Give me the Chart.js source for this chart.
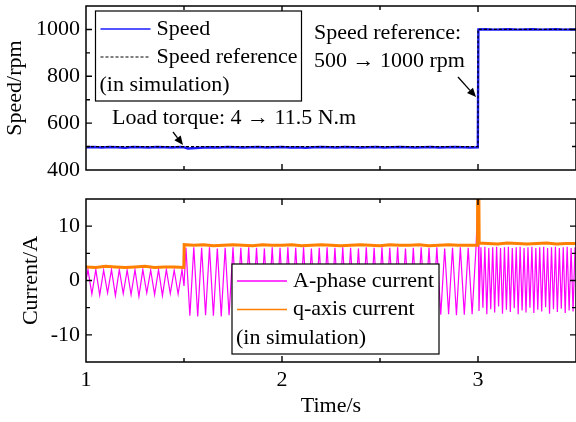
<!DOCTYPE html>
<html><head><meta charset="utf-8">
<script src="https://cdn.jsdelivr.net/npm/chart.js@4"></script>
<style>
html,body{margin:0;padding:0;background:#fff;}
#wrap{position:relative;width:576px;height:422px;overflow:hidden;background:#fff;}
#c1{position:absolute;left:0;top:0;}
#c2{position:absolute;left:0;top:190px;}
</style></head><body>
<div id="wrap"><canvas id="c1" width="576" height="176"></canvas><canvas id="c2" width="576" height="232"></canvas></div>
<script>
// ---------------- data ----------------
const speedTime = [1.00,1.04,1.08,1.12,1.16,1.20,1.24,1.28,1.32,1.36,1.40,1.44,1.48,1.50,1.52,
  1.56,1.60,1.64,1.68,1.72,1.76,1.80,1.84,1.88,1.92,1.96,2.00,2.04,2.08,2.12,2.16,2.20,2.24,2.28,2.32,2.36,
  2.40,2.44,2.48,2.52,2.56,2.60,2.64,2.68,2.72,2.76,2.80,2.84,2.88,2.92,2.96,2.999,3.002,
  3.04,3.08,3.12,3.16,3.20,3.24,3.28,3.32,3.36,3.40,3.44,3.48,3.50];
const speedValues = [497,498,496,498,497,495,498,497,496,498,497,496,498,497,492,
  494,496,497,496,498,497,496,497,498,496,497,498,496,497,495,497,498,497,496,498,
  497,496,497,498,496,497,498,497,496,497,498,496,497,498,497,496,497,1000,
  1001,999,1000,1001,999,1000,1001,999,1000,1001,999,1000,1000];
const speedRefTime = [1.0, 3.0, 3.0, 3.5];
const speedRefValues = [500, 500, 1000, 1000];

const phaseTime = [1.00,
  1.01,1.03,1.05,1.07,1.09,1.11,1.13,1.15,1.17,1.19,1.21,1.23,1.25,1.27,1.29,1.31,1.33,1.35,1.37,1.39,1.41,1.43,1.45,1.47,1.49,
  1.50,
  1.51,1.53,1.55,1.57,1.59,1.61,1.63,1.65,1.67,1.69,1.71,1.73,1.75,1.77,1.79,1.81,1.83,1.85,1.87,1.89,1.91,1.93,1.95,1.97,1.99,
  2.01,2.03,2.05,2.07,2.09,2.11,2.13,2.15,2.17,2.19,2.21,2.23,2.25,2.27,2.29,2.31,2.33,2.35,2.37,2.39,2.41,2.43,2.45,2.47,2.49,
  2.51,2.53,2.55,2.57,2.59,2.61,2.63,2.65,2.67,2.69,2.71,2.73,2.75,2.77,2.79,2.81,2.83,2.85,2.87,2.89,2.91,2.93,2.95,2.97,2.99,
  3.00,
  3.005,3.015,3.025,3.035,3.045,3.055,3.065,3.075,3.085,3.095,3.105,3.115,3.125,3.135,3.145,3.155,3.165,3.175,3.185,3.195,3.205,3.215,3.225,3.235,3.245,
  3.255,3.265,3.275,3.285,3.295,3.305,3.315,3.325,3.335,3.345,3.355,3.365,3.375,3.385,3.395,3.405,3.415,3.425,3.435,3.445,3.455,3.465,3.475,3.485,3.495];
const phaseCurrent = [0,
  2.0,-2.5,2.0,-2.7,1.9,-2.3,2.0,-2.8,2.0,-2.4,1.9,-2.6,2.0,-2.9,2.0,-2.3,1.9,-2.6,2.0,-2.8,2.0,-2.4,1.9,-2.5,2.0,
  -1.0,
  6.0,-6.5,6.1,-6.6,6.0,-6.4,6.1,-6.5,5.9,-6.6,6.0,-6.4,6.1,-6.5,6.0,-6.3,6.1,-6.5,6.0,-6.4,5.9,-6.6,6.1,-6.4,6.0,
  -6.5,6.1,-6.3,6.0,-6.5,6.1,-6.4,5.9,-6.6,6.0,-6.4,6.1,-6.5,6.0,-6.3,6.1,-6.5,6.0,-6.4,5.9,-6.5,6.1,-6.3,6.0,-6.4,
  6.1,-6.3,6.0,-6.4,6.1,-6.2,5.9,-6.4,6.0,-6.3,6.1,-6.2,6.0,-6.4,6.1,-6.3,5.9,-6.2,6.0,-6.4,6.1,-6.3,6.0,-6.2,6.1,
  15.5,
  -5.6,6.1,-5.0,6.2,-6.2,6.0,-5.3,6.1,-5.9,6.2,-4.8,6.0,-6.1,6.1,-5.4,6.2,-5.8,6.0,-5.1,6.1,-6.2,6.2,-5.5,6.0,-5.9,
  6.1,-5.0,6.2,-6.0,6.0,-5.4,6.1,-5.7,6.2,-4.9,6.0,-6.1,6.1,-5.3,6.2,-5.8,6.0,-5.2,6.1,-6.0,6.2,-5.5,6.0,-5.7,6.1];

const qTime = [1.00,1.05,1.10,1.15,1.20,1.25,1.30,1.35,1.40,1.45,1.499,1.501,
  1.55,1.60,1.65,1.70,1.75,1.80,1.85,1.90,1.95,2.00,2.05,2.10,2.15,2.20,2.25,2.30,2.35,2.40,2.45,2.50,
  2.55,2.60,2.65,2.70,2.75,2.80,2.85,2.90,2.95,2.997,2.998,3.004,3.006,
  3.05,3.10,3.15,3.20,3.25,3.30,3.35,3.40,3.45,3.50];
const qCurrent = [2.5,2.4,2.6,2.5,2.4,2.5,2.6,2.4,2.5,2.5,2.4,6.6,
  6.5,6.6,6.4,6.5,6.6,6.5,6.4,6.6,6.5,6.5,6.6,6.4,6.5,6.6,6.5,6.4,6.5,6.6,6.5,6.4,
  6.6,6.5,6.5,6.6,6.4,6.5,6.6,6.5,6.5,6.5,18,18,6.9,
  6.8,6.7,6.9,6.8,6.7,6.8,6.9,6.7,6.8,6.8];

const timeTickLabels = [1, 2, 3];
const speedTickLabels = [400, 600, 800, 1000];
const currentTickLabels = [-10, 0, 10];
const speedLegendLabels = ['Speed', 'Speed reference', '(in simulation)'];
const currentLegendLabels = ['A-phase current', 'q-axis current', '(in simulation)'];
const loadNote = 'Load torque: 4 \u2192 11.5 N.m';
const refNote = ['Speed reference:', '500 \u2192 1000 rpm'];

// ---------------- helpers ----------------
const FONT = '"Liberation Serif","Times New Roman",serif';
const FS = 22;
Chart.defaults.font.family = FONT;
Chart.defaults.font.size = FS;
Chart.defaults.color = '#000';

function pts(xs, ys) { return xs.map((x, i) => ({x: x, y: ys[i]})); }
function isIn(list, v) { return list.some(t => Math.abs(t - v) < 1e-6); }
function noPad(s) { s.paddingTop = 0; s.paddingBottom = 0; s.paddingLeft = 0; s.paddingRight = 0; }

function drawFrameTicks(chart, xMajor, yMajor) {
  const {ctx, chartArea: a} = chart;
  const xs = chart.scales.x, ys = chart.scales.y;
  ctx.save();
  ctx.strokeStyle = '#000';
  ctx.lineWidth = 1.4;
  ctx.beginPath();
  xs.ticks.forEach(t => {
    const p = xs.getPixelForValue(t.value);
    if (p <= a.left + 1 || p >= a.right - 1) return;
    const len = isIn(xMajor, t.value) ? 6 : 4;
    ctx.moveTo(p, a.bottom); ctx.lineTo(p, a.bottom - len);
    ctx.moveTo(p, a.top); ctx.lineTo(p, a.top + len);
  });
  ys.ticks.forEach(t => {
    const p = ys.getPixelForValue(t.value);
    if (p <= a.top + 1 || p >= a.bottom - 1) return;
    const len = isIn(yMajor, t.value) ? 6 : 4;
    ctx.moveTo(a.left, p); ctx.lineTo(a.left + len, p);
    ctx.moveTo(a.right, p); ctx.lineTo(a.right - len, p);
  });
  ctx.stroke();
  ctx.lineWidth = 1.5;
  ctx.strokeRect(a.left, a.top, a.right - a.left, a.bottom - a.top);
  ctx.restore();
}

function drawLegend(ctx, box, labels, styles) {
  ctx.save();
  ctx.fillStyle = '#fff';
  ctx.fillRect(box.x, box.y, box.w, box.h);
  ctx.strokeStyle = '#000';
  ctx.lineWidth = 1.2;
  ctx.strokeRect(box.x, box.y, box.w, box.h);
  ctx.font = FS + 'px ' + FONT;
  ctx.textBaseline = 'middle';
  ctx.textAlign = 'left';
  ctx.fillStyle = '#000';
  labels.forEach((lab, i) => {
    const y = box.y + box.first + i * box.gap;
    const st = styles[i];
    if (st) {
      ctx.beginPath();
      ctx.strokeStyle = st.color;
      ctx.lineWidth = st.width;
      ctx.setLineDash(st.dash || []);
      ctx.moveTo(box.x + 5, y); ctx.lineTo(box.x + 55, y);
      ctx.stroke();
      ctx.setLineDash([]);
      ctx.fillText(lab, box.x + 61, y);
    } else {
      ctx.fillText(lab, box.x + 4, y);
    }
  });
  ctx.restore();
}

function drawArrow(ctx, x1, y1, x2, y2) {
  ctx.save();
  ctx.strokeStyle = '#000'; ctx.fillStyle = '#000'; ctx.lineWidth = 1.3;
  const ang = Math.atan2(y2 - y1, x2 - x1);
  const hl = 9, hw = 4;
  const bx = x2 - hl * Math.cos(ang), by = y2 - hl * Math.sin(ang);
  ctx.beginPath(); ctx.moveTo(x1, y1); ctx.lineTo(bx, by); ctx.stroke();
  ctx.beginPath();
  ctx.moveTo(x2, y2);
  ctx.lineTo(bx + hw * Math.sin(ang), by - hw * Math.cos(ang));
  ctx.lineTo(bx - hw * Math.sin(ang), by + hw * Math.cos(ang));
  ctx.closePath(); ctx.fill();
  ctx.restore();
}

const xCommon = {
  type: 'linear', min: 1, max: 3.5,
  grid: {display: false, drawTicks: false}, border: {display: false},
};

// ---------------- top chart: speed ----------------
new Chart(document.getElementById('c1'), {
  type: 'scatter',
  data: {datasets: [
    {label: speedLegendLabels[1], data: pts(speedRefTime, speedRefValues), showLine: true,
     borderColor: '#000', borderWidth: 1.2, borderDash: [3, 2], pointRadius: 0, tension: 0},
    {label: speedLegendLabels[0], data: pts(speedTime, speedValues), showLine: true,
     borderColor: '#1a1aff', borderWidth: 2.4, pointRadius: 0, tension: 0}
  ]},
  options: {
    responsive: false, animation: false, events: [],
    layout: {padding: {top: 6, bottom: 6, left: 0, right: -1}},
    plugins: {legend: {display: false}, tooltip: {enabled: false}},
    scales: {
      x: Object.assign({}, xCommon, {
        ticks: {display: false, stepSize: 0.5, autoSkip: false},
        afterFit: s => { s.height = 0; noPad(s); }
      }),
      y: {
        min: 400, max: 1100,
        grid: {display: false, drawTicks: false}, border: {display: false},
        ticks: {stepSize: 100, autoSkip: false, padding: 6,
          callback: v => isIn(speedTickLabels, v) ? String(v) : ''},
        title: {display: true, text: 'Speed/rpm', padding: {top: 2, bottom: 0}},
        afterFit: s => { s.width = 86; noPad(s); }
      }
    }
  },
  plugins: [{
    id: 'decorTop',
    afterDraw(chart) {
      const ctx = chart.ctx;
      drawFrameTicks(chart, timeTickLabels, speedTickLabels);
      drawLegend(ctx, {x: 95.5, y: 11, w: 206, h: 90, first: 18, gap: 28}, speedLegendLabels, [
        {color: '#1a1aff', width: 1.6},
        {color: '#000', width: 1.2, dash: [3, 2]},
        null
      ]);
      ctx.save();
      ctx.font = FS + 'px ' + FONT;
      ctx.fillStyle = '#000';
      ctx.textBaseline = 'middle';
      ctx.textAlign = 'left';
      ctx.fillText(loadNote, 112, 118);
      ctx.fillText(refNote[0], 314, 33);
      ctx.fillText(refNote[1], 314, 61);
      ctx.restore();
      drawArrow(ctx, 173, 132, 183, 145);
      drawArrow(ctx, 458, 77, 476, 97);
    }
  }]
});

// ---------------- bottom chart: current ----------------
new Chart(document.getElementById('c2'), {
  type: 'scatter',
  data: {datasets: [
    {label: currentLegendLabels[1], data: pts(qTime, qCurrent), showLine: true,
     borderColor: '#ff8000', borderWidth: 3, pointRadius: 0, tension: 0},
    {label: currentLegendLabels[0], data: pts(phaseTime, phaseCurrent), showLine: true,
     borderColor: '#ff00ff', borderWidth: 1.2, pointRadius: 0, tension: 0}
  ]},
  options: {
    responsive: false, animation: false, events: [],
    layout: {padding: {top: 9, bottom: 0, left: 0, right: -1}},
    plugins: {legend: {display: false}, tooltip: {enabled: false}},
    scales: {
      x: Object.assign({}, xCommon, {
        ticks: {stepSize: 0.5, autoSkip: false, maxRotation: 0, padding: 5,
          callback: v => isIn(timeTickLabels, v) ? String(Math.round(v)) : ''},
        title: {display: true, text: 'Time/s', padding: {top: 0, bottom: 3}},
        afterFit: s => { s.height = 60; noPad(s); }
      }),
      y: {
        min: -15, max: 15,
        grid: {display: false, drawTicks: false}, border: {display: false},
        ticks: {stepSize: 5, autoSkip: false, padding: 6,
          callback: v => isIn(currentTickLabels, v) ? String(v) : ''},
        title: {display: true, text: 'Current/A', padding: {top: 18, bottom: 0}},
        afterFit: s => { s.width = 86; noPad(s); }
      }
    }
  },
  plugins: [{
    id: 'decorBottom',
    afterDraw(chart) {
      drawFrameTicks(chart, timeTickLabels, currentTickLabels);
      drawLegend(chart.ctx, {x: 232, y: 74, w: 207, h: 90, first: 17, gap: 28.5}, currentLegendLabels, [
        {color: '#ff00ff', width: 1.4},
        {color: '#ff8000', width: 1.6},
        null
      ]);
    }
  }]
});
</script>
</body></html>
